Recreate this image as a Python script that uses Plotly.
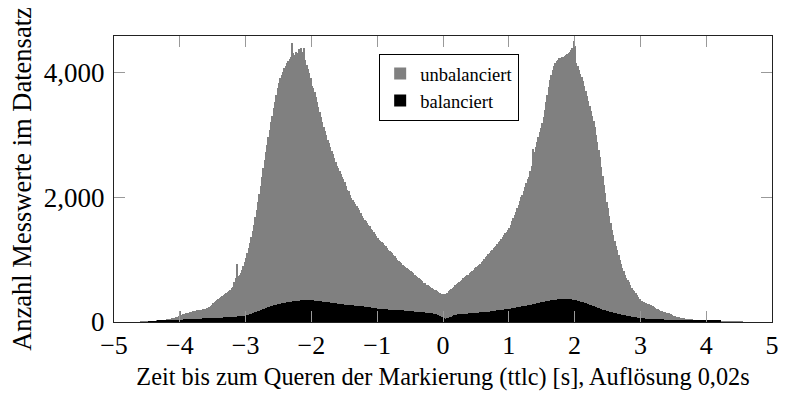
import plotly.graph_objects as go

# Histogram of time-to-line-crossing (ttlc), bins of 0.02 s from -5 s to 5 s.
BIN_START = -5.0
BIN_WIDTH = 0.02

# Counts per bin, one row per 0.1 s (5 bins per row)
unbalanciert = [
    0, 0, 0, 0, 0,            # -5.0
    0, 0, 0, 0, 0,            # -4.9
    0, 0, 0, 0, 0,            # -4.8
    0, 0, 0, 0, 0,            # -4.7
    2, 3, 3, 4, 5,            # -4.6
    6, 8, 9, 11, 13,          # -4.5
    14, 16, 18, 20, 22,       # -4.4
    25, 28, 31, 35, 38,       # -4.3
    42, 46, 50, 55, 60,       # -4.2
    66, 72, 78, 85, 95,       # -4.1
    170, 118, 125, 132, 138,  # -4.0
    142, 150, 155, 160, 166,  # -3.9
    172, 178, 182, 188, 192,  # -3.8
    196, 200, 205, 210, 216,  # -3.7
    222, 232, 245, 262, 280,  # -3.6
    298, 314, 330, 346, 362,  # -3.5
    380, 398, 416, 432, 448,  # -3.4
    462, 480, 498, 516, 540,  # -3.3
    560, 640, 700, 924, 735,  # -3.2
    756, 790, 840, 900, 960,  # -3.1
    1030, 1100, 1180, 1260, 1360,  # -3.0
    1450, 1560, 1680, 1800, 1920,  # -2.9
    2050, 2180, 2320, 2460, 2600,  # -2.8
    2720, 2840, 2960, 3080, 3200,  # -2.7
    3300, 3420, 3530, 3640, 3740,  # -2.6
    3830, 3900, 3960, 4010, 4060,  # -2.5
    4100, 4140, 4180, 4210, 4240,  # -2.4
    4470, 4300, 4280, 4330, 4310,  # -2.3
    4370, 4300, 4380, 4320, 4390,  # -2.2
    4200, 4120, 4050, 3980, 3900,  # -2.1
    3780, 3740, 3680, 3610, 3520,  # -2.0
    3440, 3360, 3290, 3210, 3130,  # -1.9
    3060, 2990, 2920, 2860, 2800,  # -1.8
    2740, 2690, 2620, 2560, 2500,  # -1.7
    2460, 2420, 2370, 2330, 2290,  # -1.6
    2240, 2180, 2120, 2090, 2040,  # -1.5
    1990, 1950, 1920, 1890, 1860,  # -1.4
    1830, 1790, 1740, 1700, 1670,  # -1.3
    1640, 1610, 1590, 1560, 1530,  # -1.2
    1490, 1470, 1440, 1410, 1380,  # -1.1
    1350, 1320, 1300, 1280, 1260,  # -1.0
    1230, 1210, 1180, 1160, 1140,  # -0.9
    1120, 1100, 1070, 1050, 1020,  # -0.8
    1000, 980, 960, 940, 920,      # -0.7
    900, 880, 870, 850, 835,       # -0.6
    820, 800, 780, 760, 740,       # -0.5
    720, 710, 690, 670, 650,       # -0.4
    630, 620, 600, 590, 570,       # -0.3
    560, 550, 530, 515, 505,       # -0.2
    495, 485, 470, 455, 445,       # -0.1
    445, 435, 450, 470, 490,       # 0.0
    505, 525, 545, 565, 585,       # 0.1
    605, 625, 640, 660, 680,       # 0.2
    700, 715, 730, 745, 760,       # 0.3
    780, 800, 820, 840, 860,       # 0.4
    875, 895, 915, 935, 955,       # 0.5
    980, 1010, 1040, 1060, 1085,   # 0.6
    1110, 1140, 1160, 1180, 1205,  # 0.7
    1225, 1250, 1275, 1300, 1330,  # 0.8
    1360, 1390, 1420, 1440, 1470,  # 0.9
    1510, 1560, 1610, 1660, 1710,  # 1.0
    1760, 1820, 1880, 1940, 2000,  # 1.1
    2040, 2100, 2160, 2220, 2290,  # 1.2
    2330, 2420, 2500, 2770, 2720,  # 1.3
    2800, 2880, 2960, 3040, 3110,  # 1.4
    3180, 3280, 3400, 3520, 3640,  # 1.5
    3760, 3880, 3960, 4040, 4100,  # 1.6
    4150, 4180, 4200, 4220, 4230,  # 1.7
    4240, 4250, 4260, 4270, 4290,  # 1.8
    4310, 4330, 4360, 4390, 4500,  # 1.9
    4420, 4150, 4100, 4030, 3970,  # 2.0
    3930, 3860, 3780, 3700, 3620,  # 2.1
    3540, 3460, 3380, 3300, 3220,  # 2.2
    3120, 3000, 2880, 2760, 2640,  # 2.3
    2480, 2340, 2200, 2060, 1920,  # 2.4
    1830, 1700, 1580, 1480, 1390,  # 2.5
    1300, 1220, 1150, 1080, 1000,  # 2.6
    930, 870, 810, 760, 710,       # 2.7
    680, 640, 590, 550, 520,       # 2.8
    490, 460, 430, 400, 370,       # 2.9
    340, 330, 320, 310, 300,       # 3.0
    295, 285, 275, 265, 255,       # 3.1
    240, 228, 215, 205, 195,       # 3.2
    180, 172, 165, 158, 152,       # 3.3
    146, 140, 132, 124, 116,       # 3.4
    100, 94, 88, 82, 76,           # 3.5
    70, 66, 62, 58, 55,            # 3.6
    52, 49, 46, 43, 41,            # 3.7
    38, 36, 34, 32, 30,            # 3.8
    28, 27, 25, 24, 22,            # 3.9
    21, 20, 18, 17, 16,            # 4.0
    14, 13, 12, 11, 10,            # 4.1
    9, 8, 7, 6, 5,                 # 4.2
    4, 4, 3, 3, 2,                 # 4.3
    2, 2, 1, 1, 1,                 # 4.4
    1, 1, 1, 0, 0,                 # 4.5
    0, 0, 0, 0, 0,                 # 4.6
    0, 0, 0, 0, 0,                 # 4.7
    0, 0, 0, 0, 0,                 # 4.8
    0, 0, 0, 0, 0,                 # 4.9
]

balanciert = [
    0, 0, 0, 0, 0,            # -5.0
    0, 0, 0, 0, 0,            # -4.9
    0, 0, 0, 0, 0,            # -4.8
    0, 0, 0, 0, 0,            # -4.7
    0, 0, 0, 0, 0,            # -4.6
    0, 3, 5, 7, 9,            # -4.5
    11, 13, 15, 17, 19,       # -4.4
    20, 22, 24, 26, 28,       # -4.3
    29, 30, 32, 33, 34,       # -4.2
    35, 36, 37, 37, 38,       # -4.1
    38, 39, 40, 41, 42,       # -4.0
    43, 44, 45, 46, 47,       # -3.9
    48, 49, 50, 52, 53,       # -3.8
    54, 55, 57, 58, 59,       # -3.7
    60, 61, 62, 63, 64,       # -3.6
    65, 66, 67, 68, 69,       # -3.5
    70, 71, 72, 73, 74,       # -3.4
    75, 76, 77, 79, 80,       # -3.3
    81, 83, 85, 87, 89,       # -3.2
    91, 93, 95, 97, 99,       # -3.1
    102, 108, 115, 122, 130,  # -3.0
    138, 146, 155, 163, 170,  # -2.9
    178, 187, 196, 205, 214,  # -2.8
    222, 230, 238, 245, 252,  # -2.7
    258, 266, 272, 278, 284,  # -2.6
    290, 295, 300, 304, 308,  # -2.5
    312, 316, 320, 323, 326,  # -2.4
    328, 331, 333, 335, 338,  # -2.3
    340, 343, 346, 349, 352,  # -2.2
    355, 357, 358, 356, 354,  # -2.1
    350, 347, 344, 341, 338,  # -2.0
    335, 332, 330, 328, 326,  # -1.9
    322, 319, 316, 313, 310,  # -1.8
    307, 304, 301, 298, 296,  # -1.7
    293, 291, 288, 286, 283,  # -1.6
    280, 278, 275, 273, 270,  # -1.5
    268, 266, 264, 262, 259,  # -1.4
    257, 255, 253, 251, 249,  # -1.3
    246, 243, 240, 237, 233,  # -1.2
    230, 227, 224, 221, 218,  # -1.1
    215, 212, 210, 208, 206,  # -1.0
    204, 203, 201, 199, 198,  # -0.9
    197, 195, 194, 192, 191,  # -0.8
    190, 189, 188, 187, 186,  # -0.7
    184, 182, 180, 178, 176,  # -0.6
    174, 172, 170, 168, 167,  # -0.5
    165, 163, 161, 159, 157,  # -0.4
    155, 152, 150, 148, 146,  # -0.3
    142, 138, 133, 128, 122,  # -0.2
    115, 106, 96, 86, 75,     # -0.1
    62, 55, 53, 58, 66,       # 0.0
    76, 86, 96, 106, 114,     # 0.1
    118, 121, 124, 126, 128,  # 0.2
    130, 132, 134, 136, 138,  # 0.3
    140, 142, 143, 145, 147,  # 0.4
    148, 150, 151, 153, 155,  # 0.5
    157, 159, 161, 163, 165,  # 0.6
    167, 170, 173, 176, 179,  # 0.7
    182, 185, 188, 191, 194,  # 0.8
    197, 200, 203, 206, 209,  # 0.9
    212, 215, 218, 222, 226,  # 1.0
    230, 234, 238, 242, 246,  # 1.1
    250, 254, 258, 262, 266,  # 1.2
    270, 274, 279, 284, 289,  # 1.3
    294, 299, 304, 309, 314,  # 1.4
    318, 322, 326, 330, 334,  # 1.5
    338, 342, 346, 350, 353,  # 1.6
    356, 359, 361, 363, 365,  # 1.7
    366, 367, 368, 368, 367,  # 1.8
    366, 364, 362, 359, 355,  # 1.9
    350, 345, 340, 334, 328,  # 2.0
    322, 315, 308, 300, 292,  # 2.1
    284, 275, 266, 258, 250,  # 2.2
    243, 236, 229, 222, 215,  # 2.3
    207, 200, 193, 186, 180,  # 2.4
    174, 168, 162, 156, 150,  # 2.5
    145, 140, 135, 130, 125,  # 2.6
    120, 116, 112, 107, 103,  # 2.7
    99, 95, 91, 87, 83,       # 2.8
    79, 76, 72, 69, 66,       # 2.9
    63, 60, 58, 56, 54,       # 3.0
    53, 52, 51, 50, 49,       # 3.1
    48, 47, 46, 45, 44,       # 3.2
    43, 42, 41, 40, 40,       # 3.3
    39, 38, 38, 37, 37,       # 3.4
    36, 35, 35, 34, 33,       # 3.5
    33, 32, 31, 31, 30,       # 3.6
    29, 29, 28, 28, 27,       # 3.7
    26, 26, 25, 25, 24,       # 3.8
    24, 23, 23, 22, 22,       # 3.9
    22, 21, 21, 21, 20,       # 4.0
    20, 20, 19, 19, 19,       # 4.1
    18, 0, 0, 0, 0,           # 4.2
    0, 0, 0, 0, 0,            # 4.3
    0, 0, 0, 0, 0,            # 4.4
    0, 0, 0, 0, 0,            # 4.5
    0, 0, 0, 0, 0,            # 4.6
    0, 0, 0, 0, 0,            # 4.7
    0, 0, 0, 0, 0,            # 4.8
    0, 0, 0, 0, 0,            # 4.9
]

x_ticks = [-5, -4, -3, -2, -1, 0, 1, 2, 3, 4, 5]
y_ticks = [0, 2000, 4000]

assert len(unbalanciert) == len(balanciert) == 500

centers = [BIN_START + BIN_WIDTH * (i + 0.5) for i in range(len(unbalanciert))]

FONT = "Liberation Serif"

fig = go.Figure()
fig.add_trace(go.Bar(
    x=centers, y=unbalanciert, width=BIN_WIDTH, name="unbalanciert",
    marker=dict(color="#808080", line=dict(width=0)),
))
fig.add_trace(go.Bar(
    x=centers, y=balanciert, width=BIN_WIDTH, name="balanciert",
    marker=dict(color="#000000", line=dict(width=0)),
))

fig.update_layout(
    width=789, height=395,
    margin=dict(l=114, r=10, t=36, b=71),
    barmode="overlay", bargap=0,
    plot_bgcolor="white", paper_bgcolor="white",
    font=dict(family=FONT, size=25, color="black"),
    showlegend=True,
    legend=dict(
        x=0.403, y=0.937, xanchor="left", yanchor="top",
        bgcolor="white", bordercolor="black", borderwidth=1,
        font=dict(family=FONT, size=18.5, color="black"),
        traceorder="normal", itemwidth=30, tracegroupgap=0,
    ),
)
fig.update_xaxes(
    range=[-5, 5], tickvals=x_ticks,
    tickfont=dict(family=FONT, size=26),
    showline=True, linecolor="#222", linewidth=1, mirror="allticks",
    ticks="inside", ticklen=11, tickwidth=1, tickcolor="#999",
    showgrid=False, zeroline=False,
    title=dict(text="Zeit bis zum Queren der Markierung (ttlc) [s], Auflösung 0,02s",
               font=dict(family=FONT, size=24.3), standoff=8),
)
fig.update_yaxes(
    range=[0, 4580], tickvals=y_ticks, tickformat=",d",
    tickfont=dict(family=FONT, size=27), ticklabelstandoff=3,
    showline=True, linecolor="#222", linewidth=1, mirror="allticks",
    ticks="inside", ticklen=11, tickwidth=1, tickcolor="#999",
    showgrid=False, zeroline=False,
    title=dict(text="Anzahl Messwerte im Datensatz",
               font=dict(family=FONT, size=26.5), standoff=4),
)

fig.write_html("out.html")
